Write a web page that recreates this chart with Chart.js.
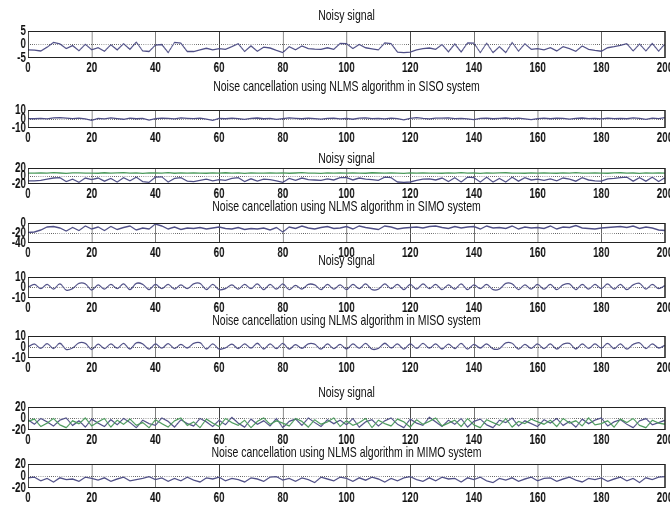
<!DOCTYPE html>
<html>
<head>
<meta charset="utf-8">
<title>NLMS noise cancellation</title>
<script src="https://cdn.jsdelivr.net/npm/chart.js@4.4.1/dist/chart.umd.min.js"></script>
<style>
    html, body { margin: 0; padding: 0; background: #fff; }
    #page { position: relative; width: 670px; height: 510px; overflow: hidden; background: #fff; }
    /* the figure is laid out wide, then squeezed like the original export */
    #fig { position: absolute; left: 0; top: 0; width: 957px; height: 510px; transform: scaleX(0.7); transform-origin: 0 0; }
    .panel { position: absolute; left: 0; }
    .title { position: absolute; left: 40px; width: 910px; text-align: center; white-space: nowrap;
             font: 15px "Liberation Sans", Arial, sans-serif; line-height: 16px; color: #111; z-index: 2; }
</style>
</head>
<body>
<div id="page"><div id="fig"></div></div>
<script>
const sampleX = [0, 2, 4, 6, 8, 10, 12, 14, 16, 18, 20, 22, 24, 26, 28, 30, 32, 34, 36, 38,
    40, 42, 44, 46, 48, 50, 52, 54, 56, 58, 60, 62, 64, 66, 68, 70, 72, 74, 76, 78,
    80, 82, 84, 86, 88, 90, 92, 94, 96, 98, 100, 102, 104, 106, 108, 110, 112, 114, 116, 118,
    120, 122, 124, 126, 128, 130, 132, 134, 136, 138, 140, 142, 144, 146, 148, 150, 152, 154, 156, 158,
    160, 162, 164, 166, 168, 170, 172, 174, 176, 178, 180, 182, 184, 186, 188, 190, 192, 194, 196, 198, 200];

const xTicks = [0, 20, 40, 60, 80, 100, 120, 140, 160, 180, 200];

const plotTitles = [
    'Noisy signal',
    'Noise cancellation using NLMS algorithm in SISO system',
    'Noisy signal',
    'Noise cancellation using NLMS algorithm in SIMO system',
    'Noisy signal',
    'Noise cancellation using NLMS algorithm in MISO system',
    'Noisy signal',
    'Noise cancellation using NLMS algorithm in MIMO system'
];

// y tick labels for each subplot (min, middle, max)
const yTicks = [
    [-5, 0, 5],
    [-10, 0, 10],
    [-20, 0, 20],
    [-40, -20, 0],
    [-10, 0, 10],
    [-10, 0, 10],
    [-20, 0, 20],
    [-20, 0, 20]
];

const sisoNoisy = [
    -2, -2.1, -2.4, -1, 0.8, 0.2, -1.5, -0.4, -2.3, 0.1,
    -2, -1.2, -2.5, -0.1, -2, 0.3, -1.8, 0.9, -2.4, -2.6,
    -0.2, 0, -3, 0.8, 0.5, -2.6, -2.6, -2, -1.4, -2,
    -1.5, -1.8, -0.8, 0.3, -2.6, -0.5, -2.5, -1, -1.3, -2.2,
    -3, -0.8, -2, -0.5, -1.5, -1.7, -1.8, -1.2, -1.8, 0.4,
    0.3, -1.5, 0, -1.2, -1.6, -2, 0.6, 0.3, -2.8, -3,
    -2.8, -2, -1.5, -1.3, -1.8, 0, -2.7, 0.2, -2.8, 0.6,
    0.5, -3, 0.5, -3, -0.8, -3, 0.8, -2.5, 0.3, -1.8,
    -1.5, -2, -1.2, -2.4, -0.8, -1.5, -2.5, -0.5, -1.8, -2.2,
    -2.5, -1.2, -0.8, -0.3, 0.3, -2.4, 0.2, -2.4, 0.4, -2.5, 0.3];

const sisoOut = [
    0.5, 0.3, 0.8, 0.2, 1.2, 1.5, 1, 0.4, 0.9, 0.2,
    -1.5, 0.8, 0.2, 1.2, 0.5, -0.3, 1, 0.3, 0.8, -1.2,
    0.5, 1, 0.7, 0.2, 1.3, 0.8, 0.4, 0.9, -0.2, -1.5,
    0.6, 0.3, 1, 0.5, -0.4, 0.8, 1.1, 0.3, 0.7, -0.5,
    0.4, 1.2, 0.8, 0.3, 1, 0.5, -0.2, 0.7, 1, 0.2,
    0.6, -0.3, 0.9, 1.3, 0.4, 0.8, 0.2, 1, 0.5, -1,
    0.8, 1.5, 0.6, 0.2, 1, 0.9, 1.2, 0.4, 0.7, 0.1,
    -0.8, 0.6, 1, 0.3, 0.8, 1.1, 0.5, 0.9, 0.2, -0.6,
    0.5, 0.9, 0.3, 1, 0.6, -0.2, 0.8, 1.1, 0.4, 0.7,
    0.2, 1, 0.5, 0.8, 0.3, 1.2, 0.6, -0.4, 0.9, 0.5, 1.5];

const simoNoisyRef = [
    7, 7.2, 7.8, 7, 8.2, 7.5, 6.8, 7.6, 8, 7.1,
    7.4, 6.9, 8.1, 7.2, 7.6, 8.3, 7, 7.7, 6.8, 8,
    7.5, 7.1, 8.2, 6.9, 7.6, 7.3, 8, 7.2, 6.9, 7.8,
    7.3, 8.1, 7, 7.6, 6.8, 7.9, 7.4, 7.1, 8, 7.2,
    7.7, 6.9, 7.5, 8.2, 7.1, 7.4, 6.8, 8, 7.3, 7.6,
    7.1, 7.9, 7.2, 6.9, 8.1, 7.5, 7, 7.8, 7.3, 6.8,
    7.6, 7.2, 8, 7.1, 7.4, 6.9, 7.8, 7.3, 8.2, 7,
    7.5, 6.8, 7.9, 7.2, 7.6, 8.1, 7, 7.4, 6.9, 7.7,
    7.2, 8, 7.3, 6.9, 7.7, 7.1, 8.2, 7.4, 7, 7.8,
    7.3, 6.9, 7.6, 8.1, 7.2, 7.5, 6.8, 7.9, 7.1, 7.6, 7.4];

const simoNoisy = [
    -12, -12, -11, -8, -5, -4, -14, -8, -16, -5,
    -9, -5, -13, -6, -15, -4, -12, -3, -14, -16,
    -3, -2, -15, -6, -4, -13, -14, -11, -8, -12,
    -9, -11, -6, -4, -14, -7, -13, -8, -9, -12,
    -16, -6, -11, -5, -9, -10, -11, -7, -10, -4,
    -4, -10, -5, -8, -9, -11, -3, -4, -15, -16,
    -15, -11, -8, -7, -10, -5, -14, -4, -15, -3,
    -4, -15, -3, -15, -6, -15, -3, -13, -4, -10,
    -8, -11, -7, -12, -5, -8, -13, -4, -10, -12,
    -13, -7, -6, -4, -3, -13, -4, -13, -3, -14, -4];

const simoOut = [
    -19, -18, -14, -8, -7, -10, -16, -9, -15, -6,
    -12, -8, -15, -7, -13, -9, -6, -14, -10, -12,
    -2, -6, -12, -8, -13, -10, -11, -9, -12, -10,
    -8, -11, -12, -9, -13, -11, -12, -10, -14, -9,
    -18, -8, -11, -6, -10, -12, -9, -7, -11, -10,
    -7, -12, -6, -9, -11, -13, -6, -8, -12, -10,
    -9, -8, -10, -7, -6, -9, -11, -7, -10, -8,
    -7, -12, -6, -10, -9, -11, -6, -12, -8, -10,
    -9, -11, -6, -12, -8, -9, -5, -10, -11, -12,
    -10, -9, -8, -7, -9, -6, -11, -8, -10, -14, -15];

const misoNoisy = [
    0, 3, -1, 3, -1.5, 3.5, -2.5, -1, 4, 3.5,
    -2.5, 2.5, -1.5, 3, -1, 3.5, -2, 4, 3, -2,
    3, -1, 3, -1.5, 2.5, -1, 3.5, 4, -2, 3,
    -2, -1, 2.5, -1.5, 3, -1, 3.5, -2, 3, -1.5,
    3.5, -2, 2, -1.5, 3, 2.5, -2, 3, -1.5, 2.5,
    -2, 3, -1, 3.5, -2, -1.5, 3.5, -1, 3, -2,
    3, -1.5, 3.5, -1, 3, -2, 2.5, -1.5, 3.5, -2,
    2.5, -1, 3, -2, -1.5, 4, 3.5, -2, 2.5, -1.5,
    3, -1.5, 3, -2, 2.5, 3.5, -2, 3, -1.5, 3,
    -1, 3.5, -1.5, 3, -2, 2.5, 4, -1.5, 3, -1, 2];

const misoOut = [
    0, 2.8, -1.2, 3.1, -1.4, 3.4, -2.3, -0.9, 3.8, 3.2,
    -2.3, 2.6, -1.4, 2.9, -1.1, 3.3, -1.8, 3.8, 2.9, -1.9,
    2.8, -1.1, 3.1, -1.3, 2.4, -0.9, 3.3, 3.9, -1.8, 2.8,
    -1.9, -0.8, 2.6, -1.4, 2.8, -1.1, 3.4, -1.8, 2.9, -1.4,
    3.3, -1.8, 2.1, -1.3, 2.9, 2.6, -1.9, 2.8, -1.4, 2.4,
    -1.8, 2.9, -1.1, 3.3, -1.9, -1.3, 3.4, -0.9, 2.8, -1.9,
    2.9, -1.3, 3.3, -1.1, 2.9, -1.8, 2.6, -1.4, 3.3, -1.9,
    2.4, -0.9, 2.9, -1.8, -1.4, 3.8, 3.4, -1.9, 2.4, -1.3,
    2.9, -1.4, 2.8, -1.9, 2.6, 3.3, -1.8, 2.9, -1.3, 2.8,
    -0.9, 3.3, -1.4, 2.9, -1.9, 2.4, 3.8, -1.4, 2.9, -0.9, 1.8];

const mimoNoisyA = [
    -2, -10, 0, -6, -13, -3, 1, -12, -4, -15,
    -1, -8, -14, -2, -11, 0, -7, -16, -3, -9,
    -12, 1, -5, -15, -2, -9, -13, 0, -6, -14,
    -3, -11, 2, -8, -15, -1, -10, -4, -13, 0,
    -16, -5, -1, -12, 1, -7, -14, -2, -9, -3,
    -11, 0, -15, -6, -2, -13, -4, 1, -10, -16,
    -1, -8, -12, 2, -6, -14, -3, -10, 0, -15,
    -5, -1, -11, -16, -3, -7, 1, -13, -4, -9,
    -14, -2, -8, 0, -12, -5, -15, -1, -9, -3,
    1, -13, -6, -2, -10, -16, -4, 0, -11, -7, -3];

const mimoNoisyB = [
    -5, -1, -14, -8, 0, -11, -16, -4, -9, 1,
    -13, -6, 0, -15, -3, -10, -1, -12, -7, -16,
    -2, -9, -15, -4, 1, -12, -6, -16, -1, -8,
    -14, 0, -7, -12, -3, -16, -5, 1, -10, -4,
    -8, -13, 0, -5, -15, -2, -10, -6, 1, -14,
    -4, -12, -7, 0, -16, -3, -9, -13, -1, -6,
    -15, -2, -10, -5, 1, -13, -8, -3, -14, 0,
    -11, -16, -2, -7, -12, 0, -15, -5, -9, -1,
    -6, -10, -3, -14, 0, -8, -4, -13, 1, -11,
    -9, -4, -15, -1, -7, 0, -12, -16, -3, -8, -10];

const mimoOut = [
    -3, -2, -8, -4, -10, -3, -6, -5, -9, -2,
    -4, -7, -3, -9, -5, -2, -8, -6, -4, -1,
    -6, -3, -9, -4, -8, -2, -7, -10, -3, -5,
    -2, -8, -4, -6, -10, -3, -5, -9, -2, -1,
    -7, -4, -9, -3, -6, -11, -2, -5, -8, -2,
    -4, -9, -3, -7, -2, -5, -10, -4, -8, -3,
    -1, -6, -9, -3, -8, -2, -5, -4, -10, -3,
    -6, -2, -8, -11, -4, -7, -3, -9, -5, -2,
    -8, -4, -3, -9, -5, -2, -7, -10, -4, -6,
    -3, -9, -5, -2, -8, -4, -11, -3, -6, -2, -1];

const BLUE = '#4f4f86';
const GREEN = '#4c9a5c';

// which series go in which subplot
const panelSeries = [
    [[sisoNoisy, BLUE]],
    [[sisoOut, BLUE]],
    [[simoNoisyRef, GREEN], [simoNoisy, BLUE]],
    [[simoOut, BLUE]],
    [[misoNoisy, BLUE]],
    [[misoOut, BLUE]],
    [[mimoNoisyB, GREEN], [mimoNoisyA, BLUE]],
    [[mimoOut, BLUE]]
];

// the MISO traces look like rounded waves, the rest are jagged
const panelTension = [0, 0, 0, 0, 0.35, 0.35, 0, 0];

// box top / bottom of every subplot and title centre, in page pixels
const layoutRows = [
    { top: 31, bottom: 58, title: 15 },
    { top: 110, bottom: 128, title: 86 },
    { top: 168, bottom: 184, title: 158 },
    { top: 223, bottom: 243, title: 206 },
    { top: 277, bottom: 298, title: 260 },
    { top: 336, bottom: 358, title: 320 },
    { top: 407, bottom: 430, title: 392 },
    { top: 464, bottom: 488, title: 452 }
];

const FONT = '"Liberation Sans", Arial, sans-serif';
const PAD_TOP = 8;
const AXIS_H = 24;

const boxPlugin = {
    id: 'box',
    afterDatasetsDraw(chart) {
        const a = chart.chartArea;
        const ctx = chart.ctx;
        ctx.save();
        ctx.strokeStyle = '#222';
        ctx.lineWidth = 1;
        ctx.strokeRect(a.left + 0.5, a.top + 0.5, a.right - a.left - 1, a.bottom - a.top - 1);
        ctx.restore();
    }
};

function toPoints(values) {
    return values.map((v, i) => ({ x: sampleX[i], y: v }));
}

function makePanel(index) {
    const fig = document.getElementById('fig');
    const row = layoutRows[index];
    const ticks = yTicks[index];
    const yMin = ticks[0];
    const yMax = ticks[ticks.length - 1];

    const title = document.createElement('div');
    title.className = 'title';
    title.style.top = (row.title - 8) + 'px';
    title.textContent = plotTitles[index];
    fig.appendChild(title);

    const holder = document.createElement('div');
    holder.className = 'panel';
    holder.style.top = (row.top - PAD_TOP) + 'px';
    const canvas = document.createElement('canvas');
    canvas.width = 957;
    canvas.height = row.bottom - row.top + PAD_TOP + AXIS_H;
    holder.appendChild(canvas);
    fig.appendChild(holder);

    const datasets = panelSeries[index].map(s => ({
        data: toPoints(s[0]),
        borderColor: s[1],
        borderWidth: 1.3,
        pointRadius: 0,
        tension: panelTension[index],
        fill: false
    }));

    const tickFont = { family: FONT, size: 14, weight: 'bold' };

    new Chart(canvas.getContext('2d'), {
        type: 'line',
        data: { datasets: datasets },
        options: {
            responsive: false,
            animation: false,
            events: [],
            layout: { padding: { top: PAD_TOP, right: 7, left: 0, bottom: 0 } },
            plugins: { legend: { display: false }, tooltip: { enabled: false } },
            scales: {
                x: {
                    type: 'linear',
                    min: xTicks[0],
                    max: xTicks[xTicks.length - 1],
                    afterBuildTicks: scale => { scale.ticks = xTicks.map(v => ({ value: v })); },
                    ticks: { autoSkip: false, maxRotation: 0, padding: 2, color: '#111', font: tickFont },
                    grid: { color: '#333', lineWidth: 1, drawTicks: false },
                    border: { display: false },
                    afterFit: scale => { scale.height = AXIS_H; scale.paddingLeft = 0; scale.paddingRight = 0; }
                },
                y: {
                    min: yMin,
                    max: yMax,
                    afterBuildTicks: scale => { scale.ticks = ticks.map(v => ({ value: v })); },
                    ticks: { autoSkip: false, padding: 3, color: '#111', font: tickFont },
                    grid: {
                        drawTicks: false,
                        lineWidth: 1,
                        color: ctx => (ctx.tick && (ctx.tick.value === yMin || ctx.tick.value === yMax)) ? 'rgba(0,0,0,0)' : '#555'
                    },
                    border: { display: false, dash: [1, 2] },
                    afterFit: scale => { scale.width = 40; scale.paddingTop = 0; scale.paddingBottom = 0; }
                }
            }
        },
        plugins: [boxPlugin]
    });
}

document.addEventListener('DOMContentLoaded', function() {
    for (let i = 0; i < plotTitles.length; i++) {
        makePanel(i);
    }
});
</script>
</body>
</html>
